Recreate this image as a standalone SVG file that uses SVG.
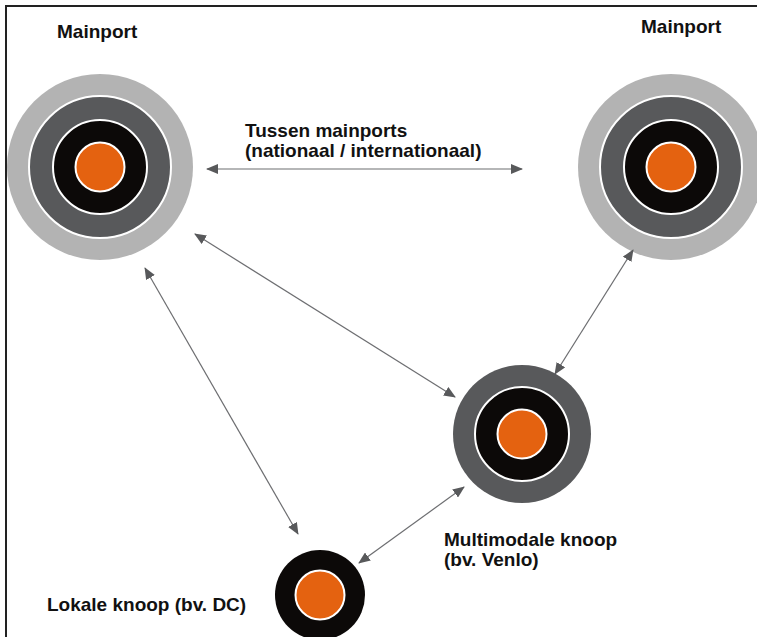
<svg xmlns="http://www.w3.org/2000/svg" width="757" height="637" viewBox="0 0 757 637">
<defs>
<style>
.lbl{font-family:"Liberation Sans",Arial,sans-serif;font-weight:bold;font-size:19px;fill:#111;}
.con{stroke:#6d6e71;stroke-width:1.2;fill:none;marker-start:url(#ah);marker-end:url(#ah);}
.lg{fill:#b3b3b3;}
.dg{fill:#58595b;stroke:#fff;stroke-width:2;}
.bk{fill:#0c0908;stroke:#fff;stroke-width:2;}
.or{fill:#e46210;stroke:#fff;stroke-width:2;}
</style>
<marker id="ah" viewBox="0 0 12 10" refX="11" refY="5" markerWidth="12" markerHeight="10" markerUnits="userSpaceOnUse" orient="auto-start-reverse">
<path d="M0,0 L12,5 L0,10 Z" fill="#58595b"/>
</marker>
</defs>
<rect width="757" height="637" fill="#fff"/>
<path d="M6,637 V6 H757" fill="none" stroke="#222" stroke-width="2"/>
<g id="mainport-left">
<circle class="lg" cx="100" cy="167" r="93"/>
<circle class="dg" cx="100" cy="167" r="71"/>
<circle class="bk" cx="100" cy="167" r="47"/>
<circle class="or" cx="100" cy="167" r="24.5"/>
<text class="lbl" x="57" y="38">Mainport</text>
</g>
<g id="mainport-right">
<circle class="lg" cx="671" cy="167" r="93"/>
<circle class="dg" cx="671" cy="167" r="71"/>
<circle class="bk" cx="671" cy="167" r="47"/>
<circle class="or" cx="671" cy="167" r="24.5"/>
<text class="lbl" x="641" y="33">Mainport</text>
</g>
<g id="multimodal">
<circle cx="522" cy="434" r="69" fill="#58595b"/>
<circle class="bk" cx="522" cy="434" r="47"/>
<circle class="or" cx="522" cy="434" r="24.5"/>
<text class="lbl" x="444" y="546">Multimodale knoop</text>
<text class="lbl" x="444" y="566">(bv. Venlo)</text>
</g>
<g id="local">
<circle cx="320" cy="595" r="45" fill="#0c0908"/>
<circle class="or" cx="320" cy="595" r="24.5"/>
<text class="lbl" x="47" y="611">Lokale knoop (bv. DC)</text>
</g>
<g id="connectors">
<line class="con" x1="207" y1="169" x2="522" y2="169"/>
<line class="con" x1="195" y1="234" x2="455" y2="397"/>
<line class="con" x1="145" y1="268" x2="298" y2="534"/>
<line class="con" x1="633" y1="250" x2="555" y2="374"/>
<line class="con" x1="464" y1="487" x2="359" y2="563"/>
<text class="lbl" x="245" y="137">Tussen mainports</text>
<text class="lbl" x="245" y="157">(nationaal / internationaal)</text>
</g>
</svg>
